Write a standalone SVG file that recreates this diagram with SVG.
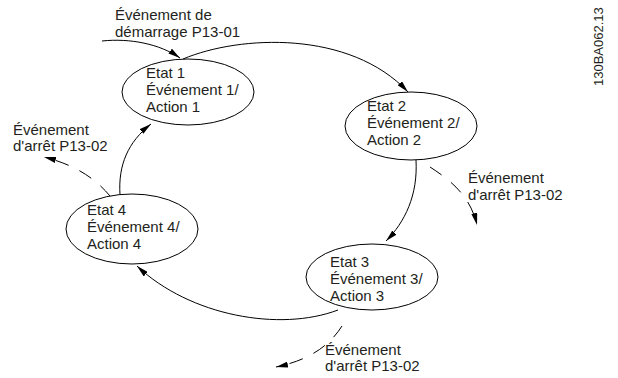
<svg xmlns="http://www.w3.org/2000/svg" width="618" height="378" viewBox="0 0 618 378">
<style>
text{font-family:"Liberation Sans",Arial,sans-serif;font-size:15px;fill:#231f20}
.st{fill:#fff;stroke:#000;stroke-width:1}
.c{fill:none;stroke:#000;stroke-width:1}
.d{fill:none;stroke:#000;stroke-width:1;stroke-dasharray:14,12}
</style>
<defs>
<marker id="a" viewBox="0 0 12 6" refX="12" refY="3" markerWidth="12" markerHeight="6" markerUnits="userSpaceOnUse" orient="auto">
<path d="M0,0 L12,3 L0,6 Z" fill="#000"/>
</marker>
</defs>
<rect width="618" height="378" fill="#fff"/>
<g id="connectors">
<path class="c" d="M102,41 C130,38 160,44 180,58" marker-end="url(#a)"/>
<path class="c" d="M183,59 C240,35 350,30 408,92" marker-end="url(#a)"/>
<path class="c" d="M416,160 C418,195 405,222 386,241" marker-end="url(#a)"/>
<path class="c" d="M338,310 C280,332 190,316 137,266" marker-end="url(#a)"/>
<path class="c" d="M120,195 C118,165 128,142 151,124" marker-end="url(#a)"/>
<path class="d" d="M430,167 C450,180 470,195 477,225" marker-end="url(#a)"/>
<path class="d" d="M110,196 C95,178 75,165 44,157" marker-end="url(#a)"/>
<path class="d" d="M342,326 C330,345 310,360 276,367" marker-end="url(#a)"/>
</g>
<g id="state1">
<ellipse class="st" cx="188" cy="92" rx="66" ry="33"/>
<text x="146" y="78">Etat 1</text>
<text x="146" y="95">Événement 1/</text>
<text x="146" y="112">Action 1</text>
</g>
<g id="state2">
<ellipse class="st" cx="411" cy="126" rx="66" ry="34"/>
<text x="367" y="111">Etat 2</text>
<text x="367" y="128">Événement 2/</text>
<text x="367" y="145">Action 2</text>
</g>
<g id="state3">
<ellipse class="st" cx="372" cy="277" rx="66" ry="33"/>
<text x="330" y="267">Etat 3</text>
<text x="330" y="284">Événement 3/</text>
<text x="330" y="301">Action 3</text>
</g>
<g id="state4">
<ellipse class="st" cx="132" cy="229" rx="66" ry="35"/>
<text x="87" y="215">Etat 4</text>
<text x="87" y="232">Événement 4/</text>
<text x="87" y="249">Action 4</text>
</g>
<g id="labels">
<text x="115" y="20">Événement de</text>
<text x="115" y="37">démarrage P13-01</text>
<text x="468" y="183">Événement</text>
<text x="468" y="200">d'arrêt P13-02</text>
<text x="13" y="135">Événement</text>
<text x="13" y="151">d'arrêt  P13-02</text>
<text x="325" y="355">Événement</text>
<text x="325" y="371">d'arrêt  P13-02</text>
<text transform="translate(603,86) rotate(-90)" style="font-size:13px">130BA062.13</text>
</g>
</svg>
